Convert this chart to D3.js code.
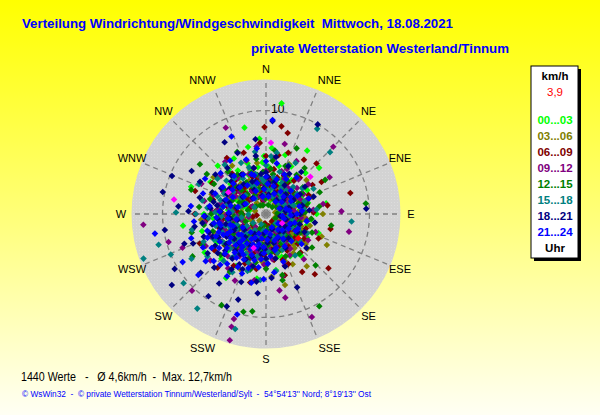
<!DOCTYPE html>
<html>
<head>
<meta charset="utf-8">
<script src="https://cdn.jsdelivr.net/npm/d3@7"></script>
<style>
  html, body { margin: 0; padding: 0; background: #ffffff; }
  svg { display: block; }
  text { font-family: "Liberation Sans", Arial, sans-serif; }
</style>
</head>
<body>
<div id="chart"></div>
<script>
// compass directions (16 sectors)
const directions = ["N", "NNE", "NE", "ENE", "E", "ESE", "SE", "SSE",
                    "S", "SSW", "SW", "WSW", "W", "WNW", "NW", "NNW"];
const rings = [10];
const hourLabels = ["00...03", "03...06", "06...09", "09...12", "12...15", "15...18", "18...21", "21...24"];
const hourColors = ["#00ff00", "#808000", "#800000", "#800080", "#008000", "#008080", "#000080", "#0000ff"];

// [direction in degrees, speed in km/h] per 3-hour block
const h00 = [[8,10.8],[346,8.6],[355,7.3],[5,6.4],[33,7.3],[49,6.8],[290,7.7],[300,6.2],[320,5.6],[340,5.2],[350,4.6],[0,4.1],[15,4.8],[25,3.7],[40,4.4],[55,3.3],[70,2.8],[85,3.6],[100,2.4],[115,3.1],[130,2.2],[145,3.5],[160,2.6],[175,3.8],[190,2.9],[205,4.2],[220,3.4],[235,4.9],[250,3.6],[265,5.1],[280,4.2],[295,3.1],[310,4.5],[325,3.3],[338,2.6],[352,3.0],[8,2.4],[20,2.0],[35,2.9],[48,1.8],[62,2.4],[78,1.5],[92,2.0],[108,1.7],[122,2.7],[138,1.4],[152,2.0],[168,1.6],[182,2.3],[198,1.9],[212,2.6],[228,2.2],[242,2.9],[258,2.5],[272,3.2],[286,2.3],[302,2.8],[316,2.0],[330,2.4],[345,1.5],[358,1.9],[12,3.4],[28,5.2],[44,5.5],[60,4.6],[75,4.2],[90,4.9],[105,4.1],[120,4.6],[135,4.0],[150,4.7],[165,4.3],[180,5.0],[195,5.3],[210,5.8],[225,6.1],[240,5.5],[255,6.4],[270,6.0],[285,5.5],[300,4.8],[315,6.6],[330,6.2],[345,6.7],[358,5.6],[18,6.0],[262,8.1],[238,7.0],[212,7.3],[188,6.3],[170,5.5],[140,5.3],[110,5.4],[80,5.9],[64,3.8],[96,3.2],[128,3.6],[156,3.1],[186,4.1],[216,4.7],[246,4.2],[276,3.7],[306,3.9],[336,4.1],[4,3.3],[30,2.6],[52,2.1],[200,3.5],[230,2.8],[260,3.4],[290,2.0],[318,3.0],[348,3.8],[360,2.8],[272,4.6],[226,5.2],[196,2.5],[160,4.4],[112,2.9],[72,3.9],[42,3.2],
  [7,2.2],[23,3.1],[37,4.1],[53,2.7],[67,1.9],[83,3.3],[97,4.4],[113,2.2],[127,3.0],[143,2.4],[157,3.8],[173,2.1],[187,3.2],[203,4.8],[217,2.3],[233,3.9],[247,5.1],[263,2.7],[277,4.4],[293,3.6],[307,2.5],[323,4.3],[337,3.2],[353,2.3],[3,4.6],[17,1.4],[43,1.6],[137,1.6],[223,1.8],[253,1.7],[283,1.6],[313,1.3],[327,5.0],[341,4.5],[356,5.0]];
const h03 = [[120,3.2],[135,2.8],[110,2.1],[150,3.6],[128,4.1],[140,1.9],[100,2.9],[160,2.4],[170,3.3],[115,1.5],[125,2.6],[145,4.6],[155,1.2],[95,3.8],[85,2.2],[75,1.7],[105,4.4],[130,5.2],[138,3.9],[118,0.9],[180,1.6],[200,2.5],[220,1.8],[240,3.0],[260,2.2],[280,3.7],[300,2.9],[320,1.4],[340,3.1],[0,2.0],[20,2.7],[40,1.3],[60,3.5],[70,4.8],[50,5.1],[30,4.2],[10,3.9],[350,5.0],[330,4.5],[310,3.3],[290,5.6],[270,4.1],[250,5.3],[230,4.7],[210,3.8],[190,4.3],[175,6.1],[165,7.1],[142,6.4],[112,5.8],[90,5.5],[80,0.9],[148,2.2],[132,1.4],[122,3.7],[108,2.5],[98,1.1],[158,4.9],[168,2.0],[185,3.1],[195,1.0],[205,5.9],[215,2.9],[225,0.9],[245,1.5],[255,3.6],[265,6.3],[275,2.4],[285,1.1],[295,4.0],[305,6.2],[315,2.3],[325,5.7],[335,0.9],[345,2.6],[355,3.4],[15,1.5],[25,5.3],[45,2.9],[55,1.9],[65,2.6],[152,5.5],[127,4.8],[117,6.6],[137,3.1],[143,1.0],[105,2.2],[112,3.0],[118,2.5],[124,1.9],[130,3.4],[136,2.4],[142,3.2],[148,1.7],[154,2.9],[160,3.8],[166,2.6],[172,1.9],[178,3.5],[184,2.3],[190,2.9],[115,3.9],[125,4.5],[135,3.6],[145,2.0],[155,3.3],[165,4.0],[175,2.4],[185,4.6],[195,3.6],[100,3.5],[92,2.7],[88,1.9],[300,3.4],[310,2.6],[320,3.8],[290,2.5],[280,3.0],[330,2.8],[340,2.0],[235,2.6],[228,3.4],[248,4.2],[262,3.3],[140,4.3],[128,3.0],
  [103,1.8],[113,3.4],[121,2.0],[129,2.4],[133,3.7],[139,2.7],[147,3.9],[151,1.5],[157,2.4],[163,3.1],[171,2.8],[177,1.8],[183,3.7],[193,2.2],[207,3.2],[217,2.4],[243,2.5],[283,3.6],[297,2.3],[303,3.0],[313,4.2],[323,3.2],[333,3.6],[343,4.1],[119,4.2],[131,1.9],[149,2.8],[161,1.6],[137,2.1],[109,3.6],[97,2.4],[87,3.1],[77,2.8],[67,3.3],[57,2.4]];
const h06 = [[76,8.4],[131,8.0],[141,7.5],[35,6.4],[359,8.4],[10,8.6],[15,8.1],[60,6.2],[45,6.9],[355,6.9],[340,6.3],[320,5.1],[300,6.0],[280,4.4],[265,5.7],[250,3.6],[235,6.1],[220,4.2],[205,3.3],[190,5.4],[175,2.7],[160,4.7],[145,3.8],[130,2.5],[115,5.6],[100,3.1],[88,4.6],[70,2.3],[55,3.4],[40,2.0],[25,4.1],[10,2.6],[0,5.6],[350,3.0],[335,1.8],[315,2.9],[295,1.6],[275,2.8],[258,1.3],[242,2.5],[228,1.7],[212,5.9],[198,1.4],[182,3.9],[168,1.2],[152,2.2],[138,5.0],[122,1.6],[108,2.4],[94,1.2],[82,6.0],[66,4.5],[50,1.5],[35,3.7],[20,6.3],[5,4.3],[345,4.6],[328,3.4],[308,4.2],[288,7.2],[270,6.9],[255,4.8],[238,4.0],[222,7.0],[208,1.9],[193,6.8],[178,4.8],[163,6.2],[148,6.6],[133,4.2],[118,3.3],[103,6.4],[90,2.0],[74,3.6],[58,5.3],[43,4.8],[28,2.4],[12,5.8],[348,1.3],[325,6.6],[305,2.1],[285,5.3],[262,0.9],[246,7.0],[232,2.6],[216,3.0],[201,4.7],[186,0.9],[171,3.5],[156,5.3],[141,0.9],[200,2.4],[210,3.6],[220,2.9],[230,3.8],[240,2.2],[250,4.5],[260,3.4],[270,2.3],[280,3.7],[290,2.6],[300,3.9],[310,2.4],[320,3.3],[330,2.7],[340,3.8],[350,2.1],[0,3.2],[10,4.4],[20,2.9],[30,3.6],[40,4.2],[50,2.7],[60,3.1],[70,4.4],[80,2.6],[90,3.5],[100,2.3],[110,4.1],[120,2.9],[130,3.6],[140,2.3],[150,4.1],[160,3.0],[170,4.5],[180,2.8],
  [7,3.4],[23,2.2],[47,3.2],[63,2.0],[79,3.9],[93,2.7],[107,3.4],[127,2.7],[143,3.2],[153,1.7],[167,3.8],[187,2.4],[197,3.9],[213,2.6],[227,3.3],[243,4.1],[253,2.3],[263,4.2],[277,3.3],[293,2.7],[307,3.6],[317,4.4],[333,2.4],[347,3.6],[357,2.2],[17,3.7],[37,2.9],[203,5.2],[233,5.0],[247,3.3],[273,4.9],[213,4.4],[187,4.1],[157,3.3],[123,4.4]];
const h09 = [[265,11.9],[196,12.7],[156,10.9],[197,11.4],[197,10.6],[224,10.3],[254,9.8],[248,8.7],[170,7.5],[167,8.3],[88,7.3],[102,8.2],[335,9.2],[45,9.2],[60,7.1],[0,4.2],[12,3.1],[25,4.8],[38,2.6],[50,3.9],[65,2.2],[78,3.4],[92,2.8],[105,1.9],[118,3.6],[132,2.5],[145,4.1],[158,3.0],[172,4.4],[185,3.2],[198,5.1],[210,3.7],[222,5.5],[235,4.1],[248,5.8],[260,4.4],[272,5.2],[285,3.9],[298,4.7],[310,3.3],[322,4.4],[335,3.0],[348,3.8],[5,2.2],[18,1.7],[32,2.0],[45,1.5],[58,2.9],[72,1.8],[85,4.6],[98,4.0],[112,2.4],[125,1.4],[138,3.3],[152,2.0],[165,1.6],[178,2.4],[190,1.9],[204,2.7],[216,2.1],[228,3.2],[242,2.6],[254,3.4],[266,2.8],[278,3.6],[290,2.4],[304,2.9],[316,2.0],[328,2.6],[342,1.8],[355,2.9],[8,5.5],[30,5.9],[55,5.0],[80,5.6],[110,5.1],[140,5.7],[165,6.2],[190,6.5],[205,7.1],[215,6.4],[230,7.0],[242,6.6],[258,7.3],[270,6.8],[282,6.1],[295,6.9],[310,5.7],[322,6.4],[340,5.5],[352,6.6],[15,7.0],[225,4.6],[238,5.0],[250,4.3],[262,6.0],[276,4.6],[290,5.4],[200,4.2],[182,4.9],[150,4.6],[128,3.9],[70,4.3],[40,3.3],[20,4.4],[345,4.6],[300,3.4],[268,3.9],[232,3.9],[212,4.8],[193,3.7],[174,3.5],[160,5.3],[122,4.8],[96,3.4],[62,4.1],[350,1.4],[220,1.6],[260,1.7],[300,1.5],
  [3,3.3],[17,2.6],[27,3.8],[43,4.6],[53,2.4],[67,3.6],[83,2.7],[103,3.0],[117,4.3],[133,2.9],[147,3.4],[163,2.7],[177,3.2],[187,4.3],[207,3.4],[217,4.1],[227,2.7],[237,3.4],[247,4.4],[257,3.1],[273,3.2],[283,4.5],[297,3.9],[313,3.8],[327,3.4],[337,4.2],[353,3.3],[197,2.3],[213,2.9],[233,2.2],[253,2.3],[223,3.7],[243,3.0],[263,3.6],[203,3.9]];
const h12 = [[84,9.7],[150,10.3],[307,8.0],[193,9.7],[188,9.5],[206,9.8],[165,6.1],[100,6.4],[60,6.6],[40,5.8],[25,7.0],[8,6.2],[350,5.4],[335,6.6],[318,5.5],[300,4.6],[285,5.6],[268,4.4],[252,5.4],[238,3.7],[222,4.3],[206,3.5],[192,4.8],[176,3.0],[162,3.8],[148,2.5],[134,3.2],[118,3.8],[104,2.6],[90,3.4],[76,4.1],[62,2.8],[48,3.4],[34,2.3],[18,3.5],[2,2.8],[346,3.1],[330,2.1],[314,3.3],[298,2.5],[282,1.8],[266,3.1],[250,2.1],[234,1.6],[218,2.5],[202,1.5],[186,2.2],[170,1.4],[155,4.5],[140,5.0],[126,5.5],[112,4.8],[96,4.4],[82,5.2],[68,5.6],[54,4.4],[38,4.8],[22,5.0],[6,4.4],[356,4.1],[340,4.2],[324,4.7],[308,1.2],[292,3.5],[276,6.5],[260,6.1],[244,6.8],[228,5.9],[212,6.6],[196,5.6],[180,5.3],[166,6.6],[144,1.3],[128,1.9],[114,1.0],[98,1.7],[86,1.1],[70,1.6],[56,1.2],[42,0.9],[28,1.6],[14,0.9],[358,1.5],[342,0.9],[326,1.0],[304,6.9],[288,7.6],[256,7.4],[240,8.2],[272,2.4],[136,6.9],[10,3.9],[30,3.0],[50,2.2],[72,3.3],[92,2.5],[110,3.0],[130,4.2],[160,2.3],[184,3.6],[200,4.4],[216,3.2],[232,4.9],[246,3.4],[262,3.8],[278,4.3],[294,2.8],[312,4.0],[328,3.6],[344,2.5],[0,3.5],[224,2.8],[208,2.1],[190,1.1],[240,5.2],[270,5.3],[300,5.8],[20,2.0],[60,4.0],
  [5,2.3],[13,3.2],[27,4.2],[43,2.8],[57,3.4],[73,2.4],[87,3.8],[103,3.3],[117,2.4],[123,3.5],[137,2.8],[153,3.2],[167,2.5],[173,3.8],[187,3.0],[197,2.6],[213,4.0],[227,3.6],[237,2.5],[253,3.3],[267,2.3],[283,3.1],[297,4.2],[317,2.6],[333,3.0],[347,3.9],[357,3.0],[7,5.2],[33,3.8],[47,2.6],[203,3.2],[233,4.1],[243,2.9],[257,4.5],[287,3.9]];
const h15 = [[95,8.3],[31,9.6],[46,8.6],[271,8.7],[254,10.8],[250,12.6],[247,10.0],[239,8.4],[216,11.3],[195,11.5],[230,10.4],[0,4.7],[12,3.6],[25,5.2],[40,3.0],[55,4.3],[68,2.6],[82,3.7],[95,2.2],[108,3.3],[122,2.0],[136,3.5],[150,2.6],[164,3.9],[178,2.8],[192,4.2],[205,3.3],[218,4.7],[230,3.6],[242,5.3],[254,4.1],[266,5.6],[278,4.3],[290,5.0],[304,3.8],[318,4.6],[332,3.2],[345,4.0],[6,2.3],[20,1.8],[34,2.4],[48,1.6],[62,2.0],[76,1.5],[90,3.0],[104,1.6],[118,2.8],[132,1.3],[146,1.9],[160,1.5],[174,2.1],[188,1.6],[202,2.4],[214,1.9],[226,2.7],[238,2.2],[250,3.0],[262,2.4],[274,3.3],[286,2.6],[298,2.1],[312,2.7],[326,1.8],[338,2.5],[352,1.9],[10,6.0],[30,5.7],[62,5.2],[85,4.9],[115,4.4],[145,4.9],[170,5.6],[185,6.4],[198,5.8],[210,6.5],[222,6.1],[234,7.0],[246,6.6],[258,7.3],[270,6.8],[282,6.3],[294,7.1],[306,5.8],[320,6.2],[334,5.5],[350,6.1],[226,4.8],[236,4.1],[248,4.6],[260,3.6],[272,4.9],[284,3.8],[296,4.5],[214,3.8],[200,5.0],[180,4.4],[155,3.8],[128,4.1],[100,4.0],[72,3.9],[45,3.7],[18,4.3],[356,3.2],[340,4.8],[310,5.0],[244,5.6],[262,6.2],[276,5.7],[218,5.4],[190,3.4],[165,2.9],[140,2.6],[112,3.4],[60,2.9],[30,2.9],[5,5.6],[268,1.7],[236,1.5],[300,1.3],[205,1.1],
  [3,2.9],[15,2.6],[27,3.4],[43,2.1],[57,3.6],[73,2.8],[87,2.2],[103,2.6],[117,3.5],[133,2.4],[147,3.1],[163,2.4],[177,3.6],[193,2.9],[203,3.7],[213,2.8],[223,3.5],[233,4.4],[243,3.2],[253,3.8],[257,5.0],[267,4.3],[277,3.5],[287,4.6],[303,2.9],[317,3.6],[327,4.1],[337,2.9],[353,3.5],[207,4.3],[217,5.1],[227,4.1],[237,5.0],[247,3.7],[263,2.9]];
const h18 = [[282,10.2],[261,9.9],[239,10.3],[233,11.4],[292,9.8],[30,10.0],[4,9.0],[87,9.7],[215,9.7],[203,9.7],[157,7.7],[0,4.0],[15,3.2],[30,4.5],[45,2.7],[60,3.8],[75,2.3],[90,3.3],[105,2.0],[120,3.5],[135,2.4],[150,3.8],[165,2.9],[180,4.3],[192,3.4],[204,4.8],[216,3.9],[228,5.3],[240,4.4],[252,5.8],[264,4.7],[276,5.4],[288,4.2],[300,5.0],[314,3.7],[328,4.5],[342,3.3],[355,2.5],[8,1.9],[22,2.2],[38,1.7],[52,2.1],[68,1.5],[82,1.9],[98,1.4],[112,2.6],[128,1.7],[142,2.1],[158,1.6],[172,2.3],[186,1.9],[198,2.7],[210,2.2],[222,3.0],[234,2.6],[246,3.3],[258,2.8],[270,3.6],[282,2.9],[294,2.3],[306,2.8],[320,2.0],[334,2.6],[348,1.8],[10,5.6],[40,5.3],[70,4.9],[100,4.8],[130,5.1],[160,5.4],[175,6.2],[188,6.6],[200,7.0],[212,6.3],[224,7.2],[236,6.8],[248,7.6],[260,7.0],[272,7.5],[284,6.6],[296,7.1],[308,6.2],[320,5.8],[335,6.5],[350,5.7],[220,4.6],[232,3.9],[244,5.1],[256,4.0],[268,5.9],[280,4.8],[292,5.6],[304,4.3],[208,5.5],[194,5.2],[182,3.4],[168,4.4],[145,3.0],[115,4.1],[85,4.2],[55,4.6],[25,5.1],[5,3.0],[345,4.6],[318,5.0],[262,6.2],[250,6.4],[238,5.8],[226,5.6],[214,8.1],[228,8.5],[198,8.7],[186,7.7],[250,8.4],[275,8.5],[300,8.3],[330,8.0],[352,7.3],
  [3,3.6],[17,2.8],[33,3.3],[47,2.4],[63,3.0],[77,3.6],[93,2.6],[107,3.4],[123,2.2],[137,3.2],[153,2.6],[167,3.5],[177,2.8],[187,3.9],[197,4.4],[207,3.4],[213,4.6],[223,3.8],[233,4.8],[243,3.5],[253,4.6],[263,3.5],[273,4.4],[287,3.7],[297,4.2],[313,4.6],[323,3.6],[337,3.4],[353,3.9],[203,5.8],[217,5.4],[231,6.0],[247,5.6],[259,5.3],[283,5.2]];
const h21 = [[260,10.9],[4,9.1],[336,8.2],[196,10.1],[240,9.3],[228,8.8],[0,3.6],[15,2.8],[30,3.9],[45,2.4],[60,3.5],[75,2.0],[90,3.0],[105,1.8],[120,3.3],[135,2.2],[150,3.6],[162,2.7],[174,4.1],[184,3.2],[194,4.6],[204,3.7],[214,5.1],[224,4.2],[234,5.6],[244,4.6],[254,5.9],[266,4.8],[278,5.5],[290,4.1],[302,4.9],[316,3.6],[330,4.4],[344,3.1],[356,2.4],[8,1.7],[22,2.1],[38,1.5],[52,1.9],[68,1.4],[82,2.3],[96,1.6],[112,2.5],[128,1.5],[142,1.9],[156,1.4],[168,2.0],[180,1.7],[190,2.4],[200,2.0],[210,2.8],[220,2.3],[230,3.1],[240,2.6],[250,3.4],[260,2.9],[272,3.6],[284,2.8],[296,2.2],[308,2.7],[322,1.9],[336,2.4],[350,1.7],[12,5.0],[40,4.6],[70,4.4],[100,4.0],[130,4.5],[160,4.9],[172,5.7],[182,6.3],[192,6.8],[202,6.2],[212,7.1],[222,6.6],[232,7.4],[242,6.9],[252,7.6],[264,7.0],[276,7.3],[288,6.4],[300,6.8],[312,5.9],[326,6.2],[340,5.6],[352,6.4],[186,4.4],[196,3.4],[206,4.9],[216,3.9],[226,5.5],[236,4.1],[246,5.3],[256,4.5],[268,6.0],[280,4.2],[292,5.3],[306,4.0],[218,6.1],[228,6.8],[238,6.2],[248,6.1],[208,5.8],[198,5.5],[188,5.2],[178,4.8],[166,3.6],[145,2.9],[115,3.4],[85,3.5],[55,2.9],[25,4.2],[0,5.1],[340,4.1],[320,4.8],[260,5.1],[222,3.3],[232,4.5],[244,3.8],[214,4.3],[205,2.5],
  [3,2.9],[17,3.5],[33,2.6],[47,3.3],[63,2.7],[77,3.3],[93,2.4],[107,2.9],[123,2.6],[137,3.6],[153,2.5],[163,3.4],[177,2.5],[183,3.8],[193,3.0],[199,4.2],[203,3.2],[209,4.5],[213,3.4],[219,4.8],[223,3.7],[229,5.0],[233,3.3],[239,5.2],[243,4.2],[249,4.9],[253,3.6],[259,4.6],[263,3.7],[273,4.5],[283,3.5],[297,3.6],[313,4.3],[327,3.3],[343,3.9]];
const highlighted = [[50,5.6],[4,6.9],[279,9.0],[300,4.2],[200,3.5],[120,1.8]];
const current = [[127,3.9]];

const hourSeries = [h00, h03, h06, h09, h12, h15, h18, h21];

const width = 600, height = 415;
const cx = 266, cy = 214;
const maxSpeed = 13;

const svg = d3.select("#chart").append("svg")
    .attr("width", width)
    .attr("height", height);

const defs = svg.append("defs");
const grad = defs.append("linearGradient")
    .attr("id", "bg").attr("x1", 0).attr("y1", 0).attr("x2", 0).attr("y2", 1);
grad.append("stop").attr("offset", "0%").attr("stop-color", "#ffff00");
grad.append("stop").attr("offset", "55%").attr("stop-color", "#ffff80");
grad.append("stop").attr("offset", "100%").attr("stop-color", "#fffff4");

const pat = defs.append("pattern")
    .attr("id", "stipple").attr("width", 3).attr("height", 3)
    .attr("patternUnits", "userSpaceOnUse");
pat.append("rect").attr("width", 3).attr("height", 3).attr("fill", "#d3d3d3");
pat.append("rect").attr("x", 1).attr("y", 1).attr("width", 1).attr("height", 1).attr("fill", "#dcdcdc");

svg.append("rect").attr("width", width).attr("height", height).attr("fill", "url(#bg)");

const r = d3.scaleLinear().domain([0, maxSpeed]).range([0, 134.5]);
const angle = d3.scaleLinear().domain([0, 360]).range([0, 2 * Math.PI]);

const px = (d) => cx + r(d[1]) * Math.sin(angle(d[0]));
const py = (d) => cy - r(d[1]) * Math.cos(angle(d[0]));

const plot = svg.append("g");

plot.append("circle")
    .attr("cx", cx).attr("cy", cy).attr("r", r(maxSpeed))
    .attr("fill", "url(#stipple)");

// grid
const grid = plot.append("g")
    .attr("stroke", "#808080")
    .attr("stroke-width", 1.3)
    .attr("stroke-dasharray", "5,4")
    .attr("fill", "none");

grid.selectAll("line")
    .data(directions)
    .enter()
    .append("line")
    .attr("x1", cx).attr("y1", cy)
    .attr("x2", (d, i) => cx + r(maxSpeed) * Math.sin(angle(i * 22.5)))
    .attr("y2", (d, i) => cy - r(maxSpeed) * Math.cos(angle(i * 22.5)));

grid.selectAll("circle")
    .data(rings)
    .enter()
    .append("circle")
    .attr("cx", cx).attr("cy", cy)
    .attr("r", d => r(d));

plot.selectAll("text.ring")
    .data(rings)
    .enter()
    .append("text")
    .attr("class", "ring")
    .attr("x", cx + 5)
    .attr("y", d => cy - r(d) + 2)
    .attr("font-size", 12)
    .text(d => d);

// direction labels
plot.selectAll("text.dir")
    .data(directions)
    .enter()
    .append("text")
    .attr("class", "dir")
    .attr("x", (d, i) => {
        const a = angle(i * 22.5);
        const s = Math.sin(a);
        const nudge = Math.abs(Math.cos(a)) > 0.9 && Math.abs(s) > 0.1 ? 8 * Math.sign(s) : 0;
        return cx + 145 * s + nudge;
    })
    .attr("y", (d, i) => cy - 145 * Math.cos(angle(i * 22.5)))
    .attr("dy", "0.35em")
    .attr("text-anchor", "middle")
    .attr("font-size", 11)
    .attr("fill", "#000")
    .text(d => d);

// points, drawn in time order
const diamond = "M0,-3.3L3.3,0L0,3.3L-3.3,0Z";

const pts = plot.append("g");
hourSeries.forEach((series, i) => {
    pts.append("g")
        .selectAll("path")
        .data(series)
        .enter()
        .append("path")
        .attr("d", diamond)
        .attr("transform", d => `translate(${px(d)},${py(d)})`)
        .attr("fill", hourColors[i]);
});

pts.append("g").selectAll("path")
    .data(highlighted).enter().append("path")
    .attr("d", diamond)
    .attr("transform", d => `translate(${px(d)},${py(d)})`)
    .attr("fill", "#ff00ff");

pts.append("g").selectAll("path")
    .data(current).enter().append("path")
    .attr("d", diamond)
    .attr("transform", d => `translate(${px(d)},${py(d)})`)
    .attr("fill", "#ff0000");

// titles
svg.append("text")
    .attr("x", 22).attr("y", 28)
    .attr("font-size", 13.3).attr("font-weight", "bold")
    .attr("fill", "#0000ff")
    .attr("xml:space", "preserve")
    .attr("textLength", 431).attr("lengthAdjust", "spacingAndGlyphs")
    .text("Verteilung Windrichtung/Windgeschwindigkeit  Mittwoch, 18.08.2021");

svg.append("text")
    .attr("x", 251).attr("y", 53)
    .attr("font-size", 13.3).attr("font-weight", "bold")
    .attr("fill", "#0000ff")
    .attr("textLength", 258).attr("lengthAdjust", "spacingAndGlyphs")
    .text("private Wetterstation Westerland/Tinnum");

// legend
const legend = svg.append("g");
legend.append("rect")
    .attr("x", 534).attr("y", 69).attr("width", 47).attr("height", 192)
    .attr("fill", "#000");
legend.append("rect")
    .attr("x", 531).attr("y", 66).attr("width", 47).attr("height", 192)
    .attr("fill", "#fff").attr("stroke", "#000").attr("stroke-width", 1);

legend.append("text")
    .attr("x", 555).attr("y", 80)
    .attr("text-anchor", "middle").attr("font-size", 11.5).attr("font-weight", "bold")
    .text("km/h");
legend.append("text")
    .attr("x", 555).attr("y", 96)
    .attr("text-anchor", "middle").attr("font-size", 11.5)
    .attr("fill", "#ff0000")
    .text("3,9");

legend.selectAll("text.hour")
    .data(hourLabels)
    .enter()
    .append("text")
    .attr("class", "hour")
    .attr("x", 555)
    .attr("y", (d, i) => 124 + i * 16)
    .attr("text-anchor", "middle")
    .attr("font-size", 11.5).attr("font-weight", "bold")
    .attr("fill", (d, i) => hourColors[i])
    .text(d => d);

legend.append("text")
    .attr("x", 555).attr("y", 252)
    .attr("text-anchor", "middle").attr("font-size", 11.5).attr("font-weight", "bold")
    .text("Uhr");

// footer
svg.append("text")
    .attr("x", 21).attr("y", 381)
    .attr("font-size", 12)
    .attr("xml:space", "preserve")
    .attr("textLength", 211).attr("lengthAdjust", "spacingAndGlyphs")
    .text("1440 Werte   -   Ø 4,6km/h  -  Max. 12,7km/h");

svg.append("text")
    .attr("x", 22).attr("y", 397)
    .attr("font-size", 8.5)
    .attr("fill", "#0000ff")
    .attr("xml:space", "preserve")
    .attr("textLength", 349).attr("lengthAdjust", "spacingAndGlyphs")
    .text("© WsWin32  -  © private Wetterstation Tinnum/Westerland/Sylt  -  54°54'13'' Nord; 8°19'13'' Ost");
</script>
</body>
</html>
